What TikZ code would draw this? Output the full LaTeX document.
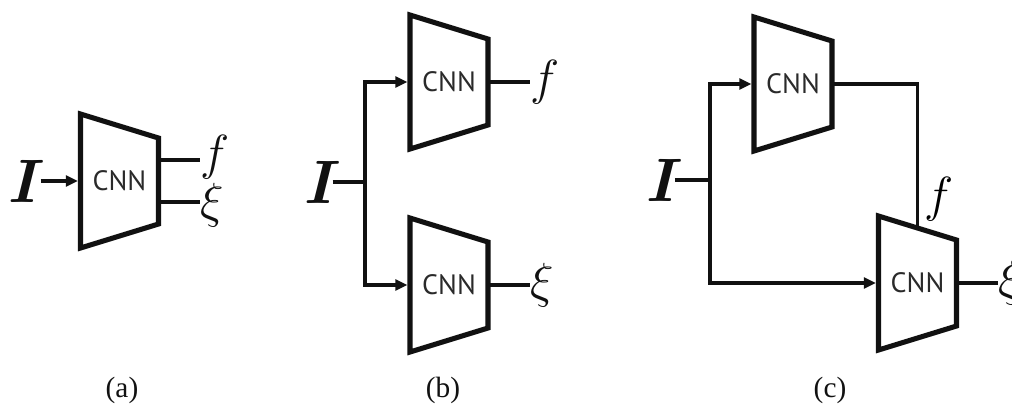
\RequirePackage{fix-cm}
\documentclass[tikz,border=0pt]{standalone}
\usepackage{fontspec}
\usepackage{xcolor}
\usetikzlibrary{arrows.meta,calc,positioning}
\newfontfamily\cnnfont{PT Sans}
\newfontfamily\capfont{Liberation Serif}
\definecolor{ink}{HTML}{111111}
\definecolor{cnntext}{HTML}{2A2A2A}
\tikzset{
  cnnbox/.style={minimum width=58.5pt,minimum height=100.5pt,inner sep=0pt,outer sep=0pt,
                 font=\cnnfont\fontsize{21}{21}\selectfont,text=cnntext},
  trapline/.style={line width=3.8pt,draw=ink,line join=miter},
  wire/.style={line width=2.3pt,draw=ink},
  feed/.style={wire,-{Triangle[length=9pt,width=8pt]},shorten >=1.9pt},
  inlabel/.style={font=\fontsize{46}{46}\selectfont\bfseries\itshape,inner sep=0pt,text=ink},
  outlabel/.style={font=\fontsize{37}{37}\selectfont,inner sep=0pt,anchor=west,text=ink},
  caption/.style={font=\capfont\fontsize{22}{22}\selectfont,inner sep=0pt,text=ink}
}
% trapezoid round a CNN node, and a point on its top edge
\newcommand{\cnnshape}[1]{%
  \draw[trapline] (#1.north west) -- ([yshift=-18pt]#1.north east)
    -- ([yshift=18pt]#1.south east) -- (#1.south west) -- cycle;
  \coordinate (#1-top) at ($(#1.north west)!0.5!([yshift=-18pt]#1.north east)$);}
\begin{document}
\begin{tikzpicture}[x=0.75pt,y=-0.75pt]
    \useasboundingbox (0,0) rectangle (1012,405);
    % (a)
    \node[inlabel] (Ia) at (22,181) {I};
    \node[cnnbox] (ta) at (119.5,181) {CNN};
    \cnnshape{ta}
    \node[outlabel,text depth=11.7pt] (fa) at (200,160) {$f$};
    \node[outlabel,text height=30.2pt] (xa) at (200,202) {$\xi$};
    \draw[feed] ([xshift=3pt]Ia.east) -- (ta.west);
    \draw[wire] ($(ta.east)+(0,-21)$) -- (fa.west);
    \draw[wire] ($(ta.east)+(0,21)$) -- (xa.west);
    \node[caption] (capa) at (122,390) {(a)};
    % (b)
    \node[inlabel] (Ib) at (318,182) {I};
    \coordinate (jb) at (365,182);
    \node[cnnbox] (tb) at (449,82) {CNN};
    \node[cnnbox] (bb) at (449,285) {CNN};
    \cnnshape{tb}
    \cnnshape{bb}
    \node[outlabel] (fb) at (530,82) {$f$};
    \node[outlabel] (xb) at (530,285) {$\xi$};
    \draw[wire] (Ib.east) -- (jb);
    \draw[feed] (jb) |- (tb.west);
    \draw[feed] (jb) |- (bb.west);
    \draw[wire] (tb.east) -- (fb.west);
    \draw[wire] (bb.east) -- (xb.west);
    \node[caption] (capb) at (443,390) {(b)};
    % (c)
    \node[inlabel] (Ic) at (660,180) {I};
    \coordinate (jc) at (710,180);
    \node[cnnbox] (tc) at (793,84) {CNN};
    \node[cnnbox] (bc) at (917.5,283) {CNN};
    \cnnshape{tc}
    \cnnshape{bc}
    \node[outlabel] (xc) at (998,283) {$\xi$};
    \draw[wire] (Ic.east) -- (jc);
    \draw[feed] (jc) |- (tc.west);
    \draw[feed] (jc) |- (bc.west);
    \draw[wire] (tc.east) -| node[pos=0.9,right,inner sep=4pt,font=\fontsize{37}{37}\selectfont] {$f$} (bc-top);
    \draw[wire] (bc.east) -- (xc.west);
    \node[caption] (capc) at (830,390) {(c)};
\end{tikzpicture}
\end{document}
